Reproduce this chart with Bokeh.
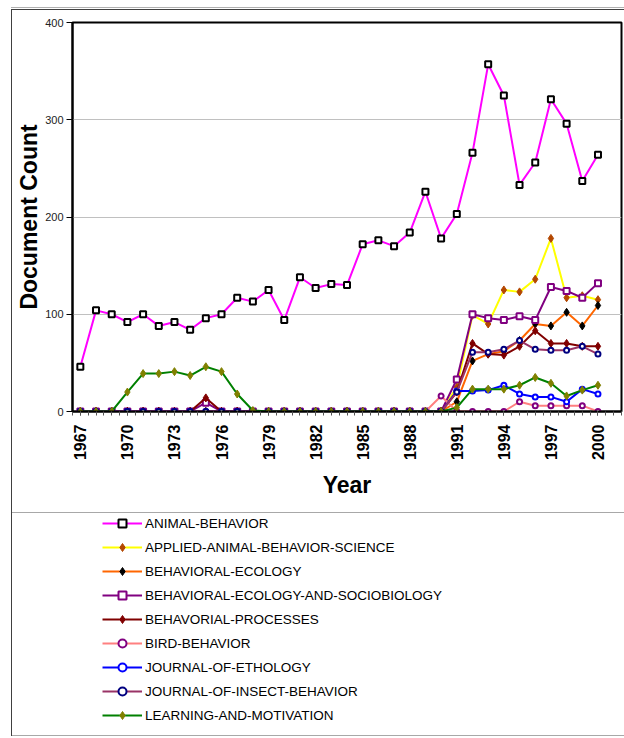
from math import pi
from bokeh.plotting import figure
from bokeh.layouts import column
from bokeh.models import Range1d, FixedTicker, Legend, LegendItem, BasicTickFormatter
from bokeh.embed import file_html
from bokeh.resources import INLINE

YEARS = [1967, 1968, 1969, 1970, 1971, 1972, 1973, 1974, 1975, 1976,
         1977, 1978, 1979, 1980, 1981, 1982, 1983, 1984, 1985, 1986,
         1987, 1988, 1989, 1990, 1991, 1992, 1993, 1994, 1995, 1996,
         1997, 1998, 1999, 2000]
TICK_YEARS = [1967, 1970, 1973, 1976, 1979, 1982, 1985, 1988, 1991, 1994, 1997, 2000]

ANIMAL_BEHAVIOR = [46, 104, 100, 92, 100, 88, 92, 84, 96, 100, 117, 113, 125, 94, 138, 127, 131, 130,
                   172, 176, 170, 184, 226, 178, 203, 266, 357, 325, 233, 256, 321, 296, 237, 264]
APPLIED_ANIMAL_BEHAVIOR_SCIENCE = [0, 0, 0, 0, 0, 0, 0, 0, 0, 0, 0, 0, 0, 0, 0, 0, 0, 0, 0, 0, 0, 0, 0, 0,
                                   25, 99, 90, 125, 123, 136, 178, 117, 119, 115]
BEHAVIORAL_ECOLOGY = [0, 0, 0, 0, 0, 0, 0, 0, 0, 0, 0, 0, 0, 0, 0, 0, 0, 0, 0, 0, 0, 0, 0, 0,
                      10, 52, 59, 62, 73, 90, 88, 102, 88, 109]
BEHAVIORAL_ECOLOGY_AND_SOCIOBIOLOGY = [0, 0, 0, 0, 0, 0, 0, 0, 9, 0, 0, 0, 0, 0, 0, 0, 0, 0, 0, 0, 0, 0, 0, 0,
                                       33, 100, 96, 94, 98, 94, 128, 124, 117, 132]
BEHAVORIAL_PROCESSES = [0, 0, 0, 0, 0, 0, 0, 0, 14, 0, 0, 0, 0, 0, 0, 0, 0, 0, 0, 0, 0, 0, 0, 0,
                        20, 70, 59, 58, 67, 83, 70, 70, 67, 67]
BIRD_BEHAVIOR = [0, 0, 0, 0, 0, 0, 0, 0, 0, 0, 0, 0, 0, 0, 0, 0, 0, 0, 0, 0, 0, 0, 0, 16,
                 0, 0, 0, 0, 10, 6, 6, 6, 6, 0]
JOURNAL_OF_ETHOLOGY = [0, 0, 0, 0, 0, 0, 0, 0, 0, 0, 0, 0, 0, 0, 0, 0, 0, 0, 0, 0, 0, 0, 0, 0,
                       21, 21, 22, 27, 18, 15, 15, 10, 23, 18]
JOURNAL_OF_INSECT_BEHAVIOR = [0, 0, 0, 0, 0, 0, 0, 0, 0, 0, 0, 0, 0, 0, 0, 0, 0, 0, 0, 0, 0, 0, 0, 0,
                              20, 61, 61, 64, 73, 64, 63, 63, 67, 59]
LEARNING_AND_MOTIVATION = [0, 0, 0, 20, 39, 39, 41, 37, 46, 41, 18, 1, 0, 0, 0, 0, 0, 0, 0, 0, 0, 0, 0, 0,
                           4, 23, 23, 23, 27, 35, 29, 16, 22, 27]

SERIES = [
    ("ANIMAL-BEHAVIOR", ANIMAL_BEHAVIOR),
    ("APPLIED-ANIMAL-BEHAVIOR-SCIENCE", APPLIED_ANIMAL_BEHAVIOR_SCIENCE),
    ("BEHAVIORAL-ECOLOGY", BEHAVIORAL_ECOLOGY),
    ("BEHAVIORAL-ECOLOGY-AND-SOCIOBIOLOGY", BEHAVIORAL_ECOLOGY_AND_SOCIOBIOLOGY),
    ("BEHAVORIAL-PROCESSES", BEHAVORIAL_PROCESSES),
    ("BIRD-BEHAVIOR", BIRD_BEHAVIOR),
    ("JOURNAL-OF-ETHOLOGY", JOURNAL_OF_ETHOLOGY),
    ("JOURNAL-OF-INSECT-BEHAVIOR", JOURNAL_OF_INSECT_BEHAVIOR),
    ("LEARNING-AND-MOTIVATION", LEARNING_AND_MOTIVATION),
]

# style: (line color, marker, marker line color, marker fill color, size, marker line width)
STYLES = [
    ("#FF00FF", "square", "#000000", "#FFFFFF", 6, 2),
    ("#FFFF00", "diamond", "#B34700", "#B34700", 8, 1),
    ("#FF6600", "diamond", "#000000", "#000000", 8, 1),
    ("#800080", "square", "#800080", "#FFFFFF", 6, 2),
    ("#800000", "diamond", "#800000", "#800000", 8, 1),
    ("#FF8080", "circle", "#800080", "#FFFFFF", 5, 2),
    ("#0000FF", "circle", "#0000FF", "#FFFFFF", 5, 2),
    ("#993366", "circle", "#000080", "#FFFFFF", 5, 2),
    ("#008000", "diamond", "#808000", "#808000", 8, 1),
]

FONT = "Liberation Sans"

# ---------------- chart ----------------
p = figure(width=624, height=512,
           x_range=Range1d(1966.5, 2001.5), y_range=Range1d(0, 400),
           output_backend="svg", toolbar_location=None,
           min_border_left=72, min_border_right=3, min_border_top=22, min_border_bottom=101)

p.background_fill_color = "white"
p.border_fill_alpha = 0
p.outline_line_color = "black"
p.outline_line_width = 2
p.styles = {
    "background": ("linear-gradient(#404040, #404040) 11px 9px / 1px 503px no-repeat, "
                   "linear-gradient(#404040, #404040) 11px 9px / 620px 1px no-repeat, "
                   "linear-gradient(#B0B0B0, #B0B0B0) 11px 7px / 620px 1px no-repeat, white"),
}

p.xgrid.visible = False
p.ygrid.ticker = FixedTicker(ticks=[100, 200, 300])
p.ygrid.grid_line_color = "#C0C0C0"
p.ygrid.grid_line_width = 1

p.yaxis.ticker = FixedTicker(ticks=[0, 100, 200, 300, 400])
p.yaxis.minor_tick_line_color = None
p.yaxis.major_tick_in = 0
p.yaxis.major_tick_out = 6
p.yaxis.axis_line_width = 2
p.yaxis.major_tick_line_width = 1
p.yaxis.major_label_text_font = FONT
p.yaxis.major_label_text_font_size = "11px"
p.yaxis.major_label_text_color = "#222222"
p.yaxis.major_label_standoff = 3
p.yaxis.axis_label = "Document Count"
p.yaxis.axis_label_text_font = FONT
p.yaxis.axis_label_text_font_size = "23px"
p.yaxis.axis_label_text_font_style = "bold"
p.yaxis.axis_label_text_color = "black"
p.yaxis.axis_label_standoff = 0

minor = [1966.5 + 0.5 * i for i in range(71)]
p.xaxis.ticker = FixedTicker(ticks=TICK_YEARS, minor_ticks=minor)
p.xaxis.formatter = BasicTickFormatter(use_scientific=False)
p.xaxis.major_tick_in = 0
p.xaxis.major_tick_out = 4
p.xaxis.minor_tick_in = 0
p.xaxis.minor_tick_out = 4
p.xaxis.minor_tick_line_color = "#555555"
p.xaxis.major_tick_line_color = "#555555"
p.xaxis.axis_line_width = 2
p.xaxis.major_label_orientation = pi / 2
p.xaxis.major_label_text_font = FONT
p.xaxis.major_label_text_font_size = "16px"
p.xaxis.major_label_text_font_style = "bold"
p.xaxis.major_label_text_color = "black"
p.xaxis.major_label_standoff = 9
p.xaxis.axis_label = "Year"
p.xaxis.axis_label_text_font = FONT
p.xaxis.axis_label_text_font_size = "23px"
p.xaxis.axis_label_text_font_style = "bold"
p.xaxis.axis_label_text_color = "black"
p.xaxis.axis_label_standoff = 9

for (name, vals), (lc, mk, mlc, mfc, sz, mlw) in zip(SERIES, STYLES):
    xs = YEARS[:len(vals)]
    p.line(xs, vals, line_color=lc, line_width=2)
    p.scatter(xs, vals, marker=mk, size=sz, line_color=mlc, fill_color=mfc, line_width=mlw)

# ---------------- legend panel (same series, styled identically; only the key is in view) ----------------
lg = figure(width=624, height=224,
            x_range=Range1d(1966.5, 2001.5), y_range=Range1d(1000, 1001),
            output_backend="svg", toolbar_location=None,
            x_axis_location=None, y_axis_location=None,
            min_border_left=0, min_border_right=0, min_border_top=0, min_border_bottom=0)
lg.grid.visible = False
lg.outline_line_color = None
lg.background_fill_alpha = 0
lg.border_fill_alpha = 0
lg.styles = {
    "background": ("linear-gradient(#404040, #404040) 11px 0px / 1px 224px no-repeat, "
                   "linear-gradient(#A8A8A8, #A8A8A8) 11px 0px / 620px 1px no-repeat, "
                   "linear-gradient(#A8A8A8, #A8A8A8) 11px 223px / 620px 1px no-repeat, white"),
}

items = []
for (name, vals), (lc, mk, mlc, mfc, sz, mlw) in zip(SERIES, STYLES):
    xs = YEARS[:len(vals)]
    r1 = lg.line(xs, vals, line_color=lc, line_width=2)
    r2 = lg.scatter(xs, vals, marker=mk, size=sz * 0.8, line_color=mlc, fill_color=mfc, line_width=mlw)
    items.append(LegendItem(label=name, renderers=[r1, r2]))

legend = Legend(items=items, location=(30, 11))
legend.border_line_color = None
legend.background_fill_alpha = 0
legend.label_text_font = FONT
legend.label_text_font_size = "13.5px"
legend.label_text_color = "black"
legend.glyph_width = 40
legend.glyph_height = 20
legend.label_height = 20
legend.label_standoff = 3
legend.spacing = 4
legend.padding = 2
legend.margin = 0
lg.add_layout(legend, "center")

layout = column(p, lg, spacing=0)
open("out.html", "w").write(file_html(layout, INLINE))
